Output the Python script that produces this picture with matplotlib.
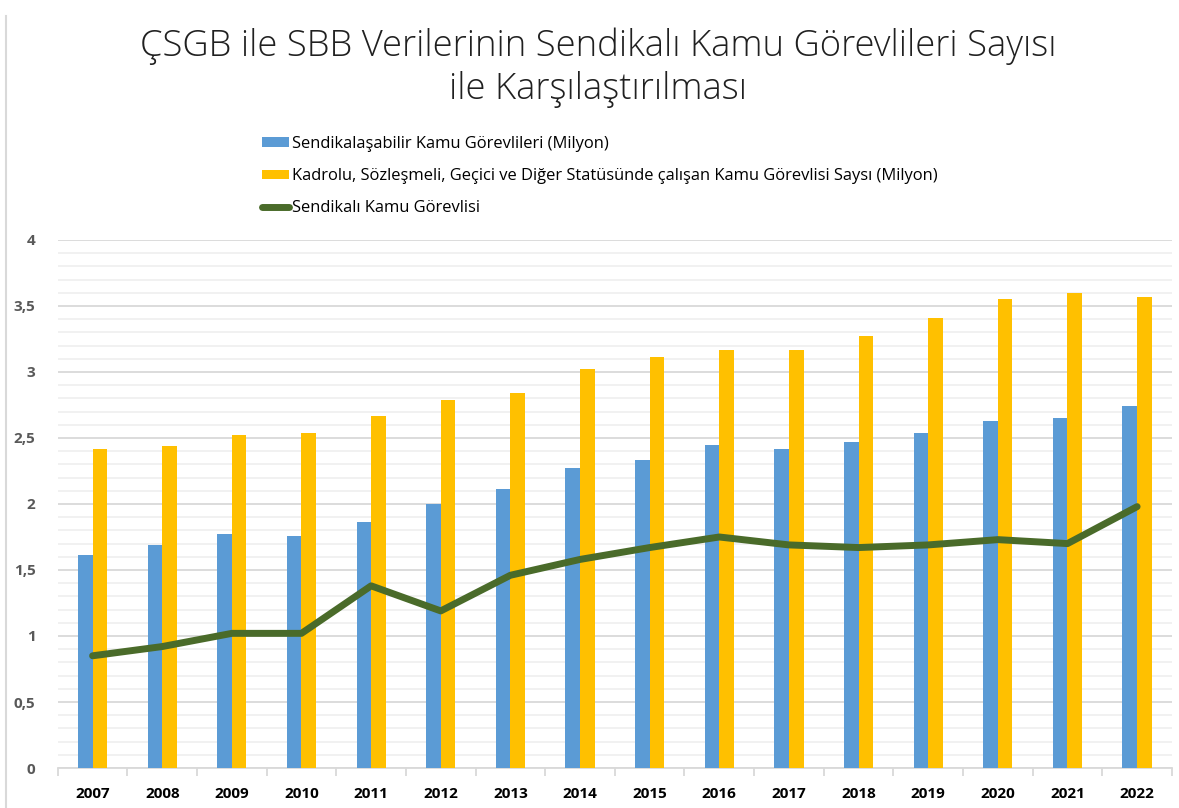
import matplotlib.pyplot as plt
import numpy as np
from matplotlib.ticker import MultipleLocator, FixedLocator, FuncFormatter

plt.rcParams['font.family'] = ['Open Sans', 'DejaVu Sans']

years = ['2007', '2008', '2009', '2010', '2011', '2012', '2013', '2014',
         '2015', '2016', '2017', '2018', '2019', '2020', '2021', '2022']
sendikalasabilir = [1.61, 1.69, 1.77, 1.76, 1.86, 2.00, 2.11, 2.27,
                    2.33, 2.45, 2.42, 2.47, 2.54, 2.63, 2.65, 2.74]
kadrolu = [2.42, 2.44, 2.52, 2.54, 2.67, 2.79, 2.84, 3.02,
           3.11, 3.17, 3.17, 3.27, 3.41, 3.55, 3.60, 3.57]
sendikali = [0.85, 0.92, 1.02, 1.02, 1.38, 1.19, 1.46, 1.58,
             1.67, 1.75, 1.69, 1.67, 1.69, 1.73, 1.70, 1.98]

lbl_blue = 'Sendikalaşabilir Kamu Görevlileri (Milyon)'
lbl_yellow = 'Kadrolu, Sözleşmeli, Geçici ve Diğer Statüsünde çalışan Kamu Görevlisi Saysı (Milyon)'
lbl_green = 'Sendikalı Kamu Görevlisi'

fig = plt.figure(figsize=(11.79, 8.08), dpi=100)
ax = fig.add_axes([0.049, 0.0495, 0.945, 0.6535])

x = np.arange(len(years))
w = 0.21
b1 = ax.bar(x - w / 2, sendikalasabilir, w, color='#5b9bd5', label=lbl_blue, zorder=3)
b2 = ax.bar(x + w / 2, kadrolu, w, color='#ffc000', label=lbl_yellow, zorder=3)
l1, = ax.plot(x, sendikali, color='#4a6b2a', lw=5, label=lbl_green, zorder=4,
              solid_capstyle='round')

ax.set_xlim(-0.5, len(years) - 0.5)
ax.set_ylim(0, 4)
ax.yaxis.set_major_locator(MultipleLocator(0.5))
ax.yaxis.set_minor_locator(MultipleLocator(0.1))
ax.yaxis.set_major_formatter(FuncFormatter(lambda v, p: ('%g' % v).replace('.', ',')))
ax.grid(axis='y', which='major', color='#d9d9d9', lw=1.3, zorder=0)
ax.grid(axis='y', which='minor', color='#f0f0f0', lw=1.3, zorder=0)

ax.set_xticks(x)
ax.set_xticklabels(years, fontweight='bold', fontsize=11, color='black')
ax.xaxis.set_minor_locator(FixedLocator(np.arange(-0.5, len(years), 1)))
ax.tick_params(axis='x', which='major', length=0, pad=14)
ax.tick_params(axis='x', which='minor', length=6, color='#d9d9d9', width=1.3)
ax.tick_params(axis='y', which='both', length=0, pad=16)
for t in ax.get_yticklabels():
    t.set_fontweight('bold')
    t.set_fontsize(11)
    t.set_color('#595959')

for s in ['top', 'right', 'left']:
    ax.spines[s].set_visible(False)
ax.spines['bottom'].set_color('#d9d9d9')
ax.spines['bottom'].set_linewidth(1.3)

fig.text(0.507, 0.966, 'ÇSGB ile SBB Verilerinin Sendikalı Kamu Görevlileri Sayısı\nile Karşılaştırılması',
         ha='center', va='top', fontsize=26.2, fontweight='light', color='#202020',
         linespacing=1.22)

fig.legend([b1, b2, l1], [lbl_blue, lbl_yellow, lbl_green],
           loc='upper left', bbox_to_anchor=(0.2095, 0.85), frameon=False,
           fontsize=11.9, labelspacing=0.98, handlelength=1.65, handletextpad=0.15,
           handleheight=0.5)

# light border at left like the original frame
fig.add_artist(plt.Line2D([0.005, 0.005], [0.0, 0.98], color='#d9d9d9', lw=1.5))

fig.savefig('out.png', dpi=100)
